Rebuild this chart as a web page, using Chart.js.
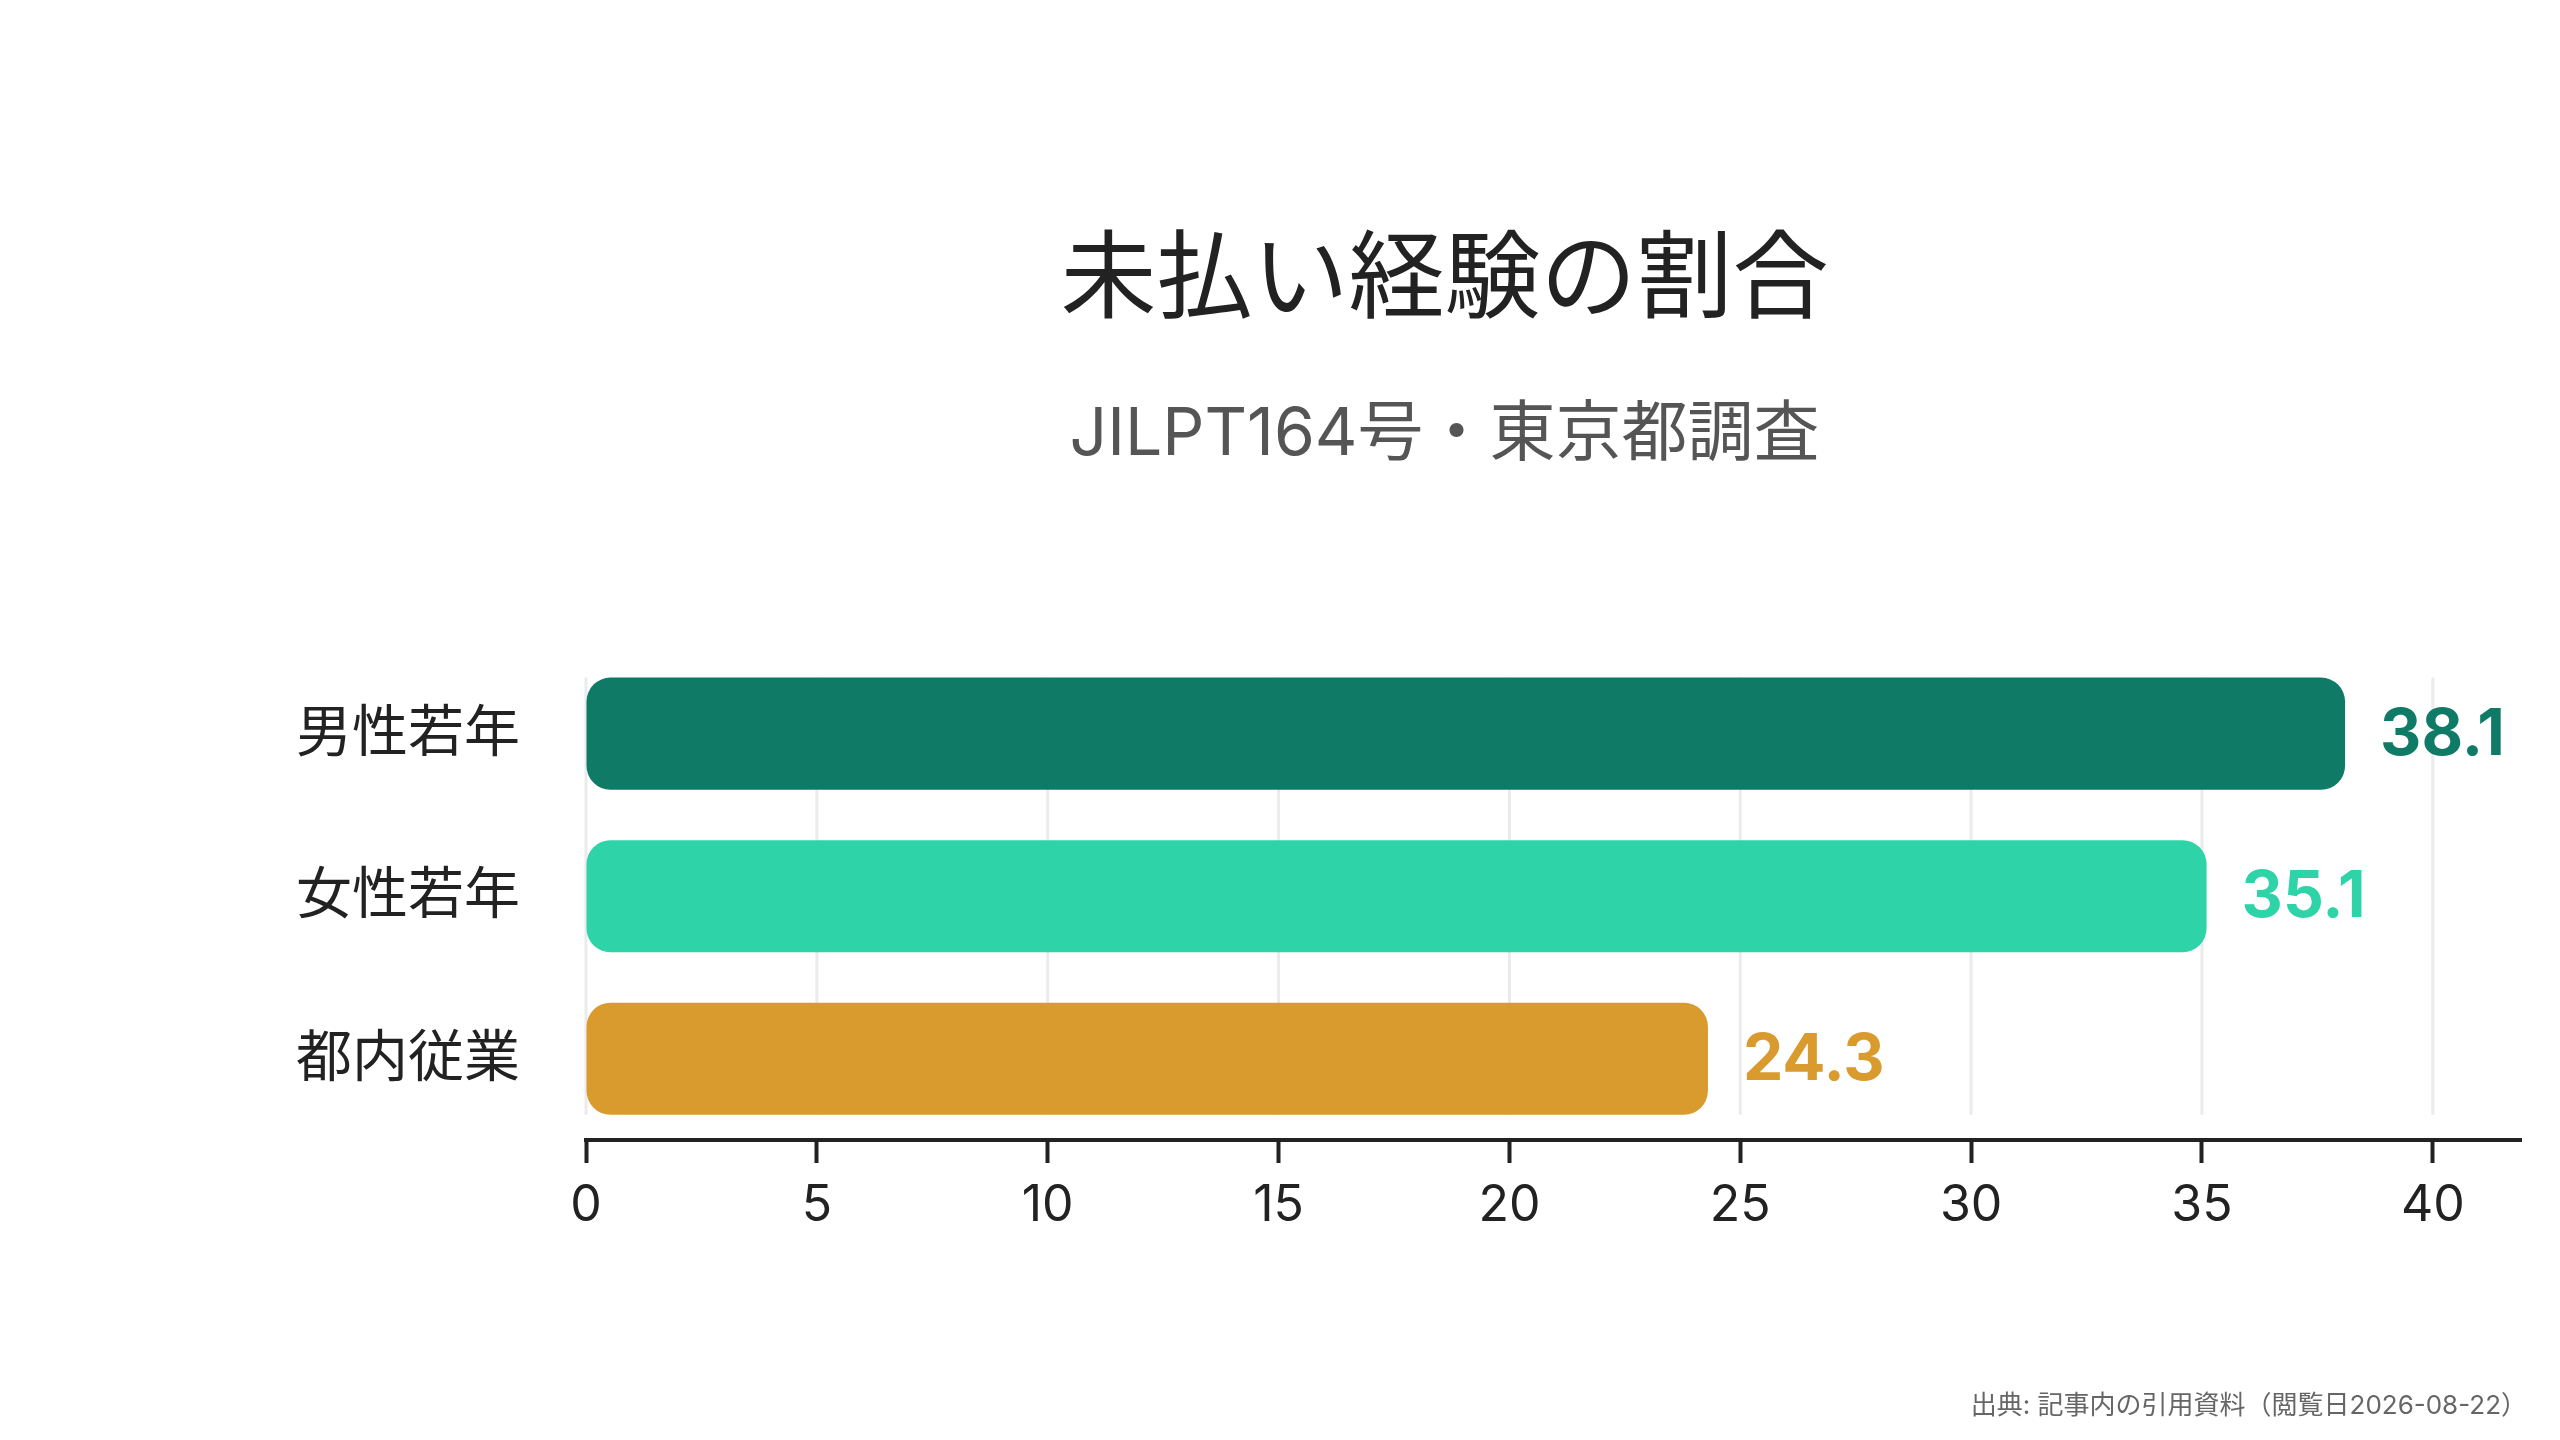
<!DOCTYPE html>
<html lang="ja">
<head>
<meta charset="utf-8">
<title>未払い経験の割合</title>
<script src="https://cdn.jsdelivr.net/npm/chart.js@4.4.1/dist/chart.umd.min.js"></script>
<style>
  html, body { margin: 0; padding: 0; background: #ffffff; }
  #wrap { width: 2560px; height: 1440px; position: relative; }
</style>
</head>
<body>
<div id="wrap"><canvas id="chart"></canvas></div>
<script>
// data
const categories = ['男性若年', '女性若年', '都内従業'];
const values = [38.1, 35.1, 24.3];
const barColors = ['#0f7b66', '#2ed4a8', '#d99a2e'];
const tickStep = 5;

const titleText = '未払い経験の割合';
const subtitleText = 'JILPT164号・東京都調査';
const sourceText = '出典: 記事内の引用資料（閲覧日2026-08-22）';

const fontFamily = "Inter, 'Noto Sans CJK JP', 'Noto Sans', sans-serif";

// titles are centred a bit right of the full width in the original
const shiftTitles = {
    id: 'shiftTitles',
    afterLayout(chart) {
        chart.boxes.forEach(box => {
            if (box.position === 'top' && box.options && typeof box.options.text === 'string') {
                box.left += 138;
            }
        });
    }
};

// vertical grid lines only span the bars, from the top of the first to the bottom of the last
const barGrid = {
    id: 'barGrid',
    beforeDatasetsDraw(chart) {
        const ctx = chart.ctx;
        const xScale = chart.scales.x;
        const bars = chart.getDatasetMeta(0).data;
        const first = bars[0], last = bars[bars.length - 1];
        const top = first.y - first.height / 2;
        const bottom = last.y + last.height / 2;
        ctx.save();
        ctx.strokeStyle = '#ebebeb';
        ctx.lineWidth = 3;
        xScale.ticks.forEach((t, i) => {
            const x = xScale.getPixelForTick(i);
            ctx.beginPath();
            ctx.moveTo(x, top);
            ctx.lineTo(x, bottom);
            ctx.stroke();
        });
        ctx.restore();
    }
};

// value labels at the end of each bar
const valueLabels = {
    id: 'valueLabels',
    afterDatasetsDraw(chart) {
        const ctx = chart.ctx;
        const meta = chart.getDatasetMeta(0);
        ctx.save();
        ctx.font = `bold 64px ${fontFamily}`;
        ctx.textAlign = 'left';
        ctx.textBaseline = 'middle';
        meta.data.forEach((bar, i) => {
            ctx.fillStyle = barColors[i];
            ctx.fillText(values[i].toFixed(1), bar.x + 35, bar.y + 2);
        });
        ctx.restore();
    }
};

// source note in the bottom right corner
const sourceNote = {
    id: 'sourceNote',
    afterDraw(chart) {
        const ctx = chart.ctx;
        ctx.save();
        ctx.font = `26px ${fontFamily}`;
        ctx.fillStyle = '#666666';
        ctx.textAlign = 'right';
        ctx.textBaseline = 'middle';
        ctx.fillText(sourceText, chart.width - 33, 1406);
        ctx.restore();
    }
};

const ctx = document.getElementById('chart').getContext('2d');
new Chart(ctx, {
    type: 'bar',
    data: {
        labels: categories,
        datasets: [{
            data: values,
            backgroundColor: barColors,
            borderRadius: 24,
            borderSkipped: false,
            categoryPercentage: 1,
            barPercentage: 0.69
        }]
    },
    options: {
        indexAxis: 'y',
        responsive: true,
        maintainAspectRatio: false,
        devicePixelRatio: 1,
        animation: false,
        layout: {
            padding: { top: 0, left: 230, right: 39, bottom: 191 }
        },
        plugins: {
            legend: { display: false },
            tooltip: { enabled: false },
            title: {
                display: true,
                text: titleText,
                color: '#222222',
                font: { family: fontFamily, size: 96, weight: 'normal' },
                padding: { top: 224, bottom: 56 }
            },
            subtitle: {
                display: true,
                text: subtitleText,
                color: '#555555',
                font: { family: fontFamily, size: 66, weight: 'normal' },
                padding: { top: 0, bottom: 178 }
            }
        },
        scales: {
            x: {
                min: 0,
                max: Math.max(...values) * 1.1,
                grid: {
                    drawOnChartArea: false,
                    drawTicks: true,
                    tickLength: 23,
                    tickColor: '#222222',
                    tickWidth: 4
                },
                border: { display: true, color: '#222222', width: 4 },
                ticks: {
                    stepSize: tickStep,
                    includeBounds: false,
                    color: '#222222',
                    padding: 13,
                    font: { family: fontFamily, size: 50 }
                }
            },
            y: {
                grid: { display: false, drawTicks: false },
                border: { display: false },
                ticks: {
                    color: '#222222',
                    padding: 66,
                    font: { family: fontFamily, size: 56 }
                }
            }
        }
    },
    plugins: [shiftTitles, barGrid, valueLabels, sourceNote]
});
</script>
</body>
</html>
